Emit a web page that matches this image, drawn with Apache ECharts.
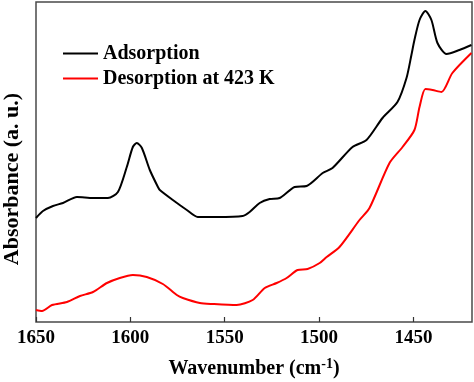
<!DOCTYPE html>
<html>
<head>
<meta charset="utf-8">
<script src="https://cdn.jsdelivr.net/npm/echarts@6/dist/echarts.min.js"></script>
<style>html,body{margin:0;padding:0;background:#fff}#c{width:474px;height:382px}</style>
</head>
<body>
<div id="c"></div>
<script>
var xTicks = [1650, 1600, 1550, 1500, 1450];
var seriesNames = ['Adsorption', 'Desorption at 423 K'];

var adsWave = [1650,1646.3,1641.0,1635.7,1628.3,1619.8,1611.9,1606.6,1601.9,1598.7,1596.6,1593.9,1589.7,1585.4,1584.4,1577.5,1570.1,1564.3,1554.2,1540.5,1536.8,1531.5,1526.2,1520.9,1513.0,1506.6,1498.1,1492.9,1482.3,1474.9,1466.4,1458.5,1453.7,1451.1,1449.5,1446.8,1443.7,1440.5,1437.3,1432.5,1425.7,1419.3];
var adsAbs  = [104,111,116,119,125,124,124,130,155,175,179,174,152,135,132,122,112,105,105,106,110,119,123,124,135,136,149,154,175,182,204,220,244,267,282,302,311,302,279,268,272,277];

var desWave = [1650,1646.8,1641.5,1633.6,1626.7,1619.8,1612.4,1605.6,1598.7,1591.3,1582.8,1575.4,1572.2,1563.2,1556.3,1543.7,1535.2,1528.8,1522.5,1517.2,1511.4,1506.1,1499.7,1496.0,1489.2,1478.6,1473.3,1462.7,1455.8,1449.5,1446.8,1443.7,1439.9,1435.2,1429.4,1419.3];
var desAbs  = [12,11,17,20,26,30,39,44,47,45,38,27,24,19,18,17,22,34,39,44,52,53,59,65,75,102,114,159,175,192,215,233,232,230,249,269];

function pairs(xs, ys) { return xs.map(function (x, i) { return [x, ys[i]]; }); }

var FONT = '"Liberation Serif", "Times New Roman", serif';
var chart = echarts.init(document.getElementById('c'));
chart.setOption({
  animation: false,
  backgroundColor: '#fff',
  grid: { left: 36, right: 2, top: 2, bottom: 60, outerBoundsMode: 'none', containLabel: false,
    show: true, borderColor: '#4a4a4a', borderWidth: 1.5, backgroundColor: 'transparent' },
  legend: {
    orient: 'vertical', left: 63, top: 43, padding: 0, itemWidth: 35, itemHeight: 2, itemGap: 4,
    icon: 'rect',
    data: seriesNames,
    textStyle: { fontFamily: FONT, fontWeight: 'bold', fontSize: 20, lineHeight: 21, color: '#000' }
  },
  xAxis: {
    type: 'value', min: 1419, max: 1650, inverse: true,
    name: 'Wavenumber (cm{sup|-1})', nameLocation: 'middle', nameGap: 35,
    nameTextStyle: { fontFamily: FONT, fontWeight: 'bold', fontSize: 20, color: '#000',
      rich: { sup: { fontFamily: FONT, fontWeight: 'bold', fontSize: 14, verticalAlign: 'top', padding: [0,0,10,0], color: '#000' } } },
    axisLine: { show: false },
    axisTick: { show: true, inside: true, length: 5, customValues: xTicks, lineStyle: { color: '#333', width: 1.2 } },
    axisLabel: { customValues: xTicks, margin: 7, formatter: function (v) { return String(v); },
      fontFamily: FONT, fontWeight: 'bold', fontSize: 19, color: '#000' },
    splitLine: { show: false }
  },
  yAxis: {
    type: 'value', min: 0, max: 320,
    name: 'Absorbance (a. u.)', nameLocation: 'middle', nameGap: 13,
    nameTextStyle: { fontFamily: FONT, fontWeight: 'bold', fontSize: 22, color: '#000', padding: [0, 34, 0, 0] },
    axisLine: { show: false }, axisTick: { show: false }, axisLabel: { show: false }, splitLine: { show: false }
  },
  series: [
    { name: seriesNames[0], type: 'line', data: pairs(adsWave, adsAbs), showSymbol: false, smooth: 0.25,
      lineStyle: { color: '#000', width: 2 }, itemStyle: { color: '#000' } },
    { name: seriesNames[1], type: 'line', data: pairs(desWave, desAbs), showSymbol: false, smooth: 0.25,
      lineStyle: { color: '#ff0000', width: 2 }, itemStyle: { color: '#ff0000' } }
  ]
});
</script>
</body>
</html>
